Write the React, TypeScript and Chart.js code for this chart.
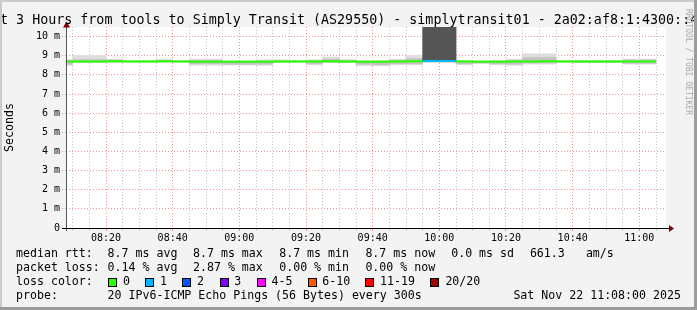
import React, { useEffect, useRef } from 'react';
import Chart from 'chart.js/auto';

// ---------- data ----------
const intervalStarts = ['08:05','08:10','08:15','08:20','08:25','08:30','08:35','08:40','08:45','08:50','08:55','09:00','09:05','09:10','09:15','09:20','09:25','09:30','09:35','09:40','09:45','09:50','09:55','10:00','10:05','10:10','10:15','10:20','10:25','10:30','10:35','10:40','10:45','10:50','10:55','11:00'];
const intervalMinutes = 5;
const axisStart = '08:08';
const axisEnd = '11:08';
const xTickLabels = ['08:20','08:40','09:00','09:20','09:40','10:00','10:20','10:40','11:00'];
const yTickValues = [0, 1, 2, 3, 4, 5, 6, 7, 8, 9, 10];
const yTickLabels = ['0', '1 m', '2 m', '3 m', '4 m', '5 m', '6 m', '7 m', '8 m', '9 m', '10 m'];
const yMax = 10.5;

// median rtt per interval (ms)
const medianRtt = [8.70, 8.70, 8.70, 8.71, 8.70, 8.70, 8.71, 8.70, 8.69, 8.69, 8.68, 8.68, 8.69, 8.70, 8.70, 8.70, 8.71, 8.70, 8.69, 8.69, 8.70, 8.71, 8.72, 8.72, 8.70, 8.68, 8.69, 8.70, 8.70, 8.71, 8.70, 8.70, 8.70, 8.70, 8.70, 8.70];
// outer smoke (min / max ping)
const smokeLow = [8.50, 8.64, 8.64, 8.64, 8.66, 8.66, 8.66, 8.66, 8.50, 8.50, 8.52, 8.52, 8.50, 8.64, 8.66, 8.52, 8.64, 8.64, 8.49, 8.49, 8.52, 8.52, 8.64, 8.64, 8.52, 8.60, 8.52, 8.50, 8.56, 8.56, 8.66, 8.64, 8.64, 8.64, 8.56, 8.56];
const smokeHigh = [8.80, 9.00, 9.00, 8.80, 8.75, 8.75, 8.82, 8.75, 8.82, 8.82, 8.74, 8.74, 8.79, 8.79, 8.75, 8.79, 8.93, 8.80, 8.75, 8.75, 8.82, 9.00, 8.74, 8.74, 8.75, 8.75, 8.75, 8.82, 9.10, 9.10, 8.75, 8.75, 8.75, 8.75, 8.82, 8.82];
// inner (denser) smoke
const coreLow = [8.55, 8.66, 8.66, 8.70, 8.68, 8.68, 8.68, 8.68, 8.58, 8.58, 8.55, 8.55, 8.56, 8.66, 8.68, 8.58, 8.66, 8.66, 8.55, 8.52, 8.58, 8.58, 8.74, 8.74, 8.58, 8.62, 8.58, 8.56, 8.62, 8.62, 8.68, 8.66, 8.66, 8.66, 8.60, 8.60];
const coreHigh = [8.76, 8.80, 8.80, 8.79, 8.73, 8.73, 8.73, 8.73, 8.76, 8.76, 8.70, 8.70, 8.74, 8.74, 8.73, 8.76, 8.82, 8.76, 8.72, 8.72, 8.76, 8.85, 8.80, 8.80, 8.73, 8.70, 8.73, 8.76, 8.90, 8.90, 8.73, 8.73, 8.73, 8.73, 8.78, 8.78];
// smoke of lost pings (drawn off the top of the scale)
const lostLow = [null, null, null, null, null, null, null, null, null, null, null, null, null, null, null, null, null, null, null, null, null, null, 8.80, 8.80, null, null, null, null, null, null, null, null, null, null, null, null];
const lostHigh = [null, null, null, null, null, null, null, null, null, null, null, null, null, null, null, null, null, null, null, null, null, null, 12, 12, null, null, null, null, null, null, null, null, null, null, null, null];
// loss colour bucket per interval (index into lossColors)
const lossBucket = [0,0,0,0,0,0,0,0,0,0,0,0,0,0,0,0,0,0,0,0,0,0,1,1,0,0,0,0,0,0,0,0,0,0,0,0];
const lossColors = ['#26ff00', '#00b8ff', '#0059ff', '#7e00ff', '#ff00ff', '#ff5500', '#ff0000', '#a10000'];
const lossLabels = ['0', '1', '2', '3', '4-5', '6-10', '11-19', '20/20'];

const titleText = 'Last 3 Hours from tools to Simply Transit (AS29550) - simplytransit01 - 2a02:af8:1:4300::4';
const medianStats = ['8.7 ms avg', '8.7 ms max', '8.7 ms min', '8.7 ms now', '0.0 ms sd', '661.3', 'am/s'];
const lossStats = ['0.14 % avg', '2.87 % max', '0.00 % min', '0.00 % now'];
const probeText = '20 IPv6-ICMP Echo Pings (56 Bytes) every 300s';
const dateText = 'Sat Nov 22 11:08:00 2025';

// ---------- helpers ----------
const toMin = (t: string) => { const [h, m] = t.split(':').map(Number); return h * 60 + m; };
const rel = (t: string) => toMin(t) - toMin(axisStart);
const mid = (i: number) => rel(intervalStarts[i]) + intervalMinutes / 2;
const isMajorX = (v: number) => xTickLabels.some(l => rel(l) === v);
const xTickValues: number[] = [];
for (let v = rel(intervalStarts[1]); v <= rel(axisEnd); v += intervalMinutes) xTickValues.push(v);

const rangeData = (lo: (number | null)[], hi: (number | null)[]) =>
  intervalStarts.map((_, i) => ({ x: mid(i), y: lo[i] == null || hi[i] == null ? null : [lo[i], hi[i]] }));

const medianPoints = intervalStarts.map((t, i) => ({ x: rel(t), y: medianRtt[i] }));
medianPoints.push({ x: rel(intervalStarts[intervalStarts.length - 1]) + intervalMinutes, y: medianRtt[medianRtt.length - 1] });

const MONO = '"DejaVu Sans Mono", monospace';
const GRID_MAJOR = 'rgba(238, 110, 110, 0.75)';
const GRID_MINOR = 'rgba(185, 185, 185, 0.8)';

const barCommon = { grouped: false, categoryPercentage: 1, barPercentage: 1, borderWidth: 0, clip: 0 };

const framePlugin = {
  id: 'rrdFrame',
  beforeDraw(chart: any) {
    const { ctx, chartArea: a } = chart;
    ctx.save();
    ctx.fillStyle = '#ffffff';
    ctx.fillRect(a.left, a.top, a.right - a.left, a.bottom - a.top);
    ctx.restore();
  },
  afterDatasetsDraw(chart: any) {
    const { ctx, chartArea: a } = chart;
    ctx.save();
    ctx.strokeStyle = '#555555';
    ctx.lineWidth = 1;
    ctx.beginPath();
    ctx.moveTo(a.left + 0.5, a.top - 4);
    ctx.lineTo(a.left + 0.5, a.bottom + 3);
    ctx.stroke();
    ctx.strokeStyle = '#000000';
    ctx.beginPath();
    ctx.moveTo(a.left - 4, a.bottom + 0.5);
    ctx.lineTo(a.right + 4, a.bottom + 0.5);
    ctx.stroke();
    ctx.fillStyle = '#800000';
    ctx.beginPath();
    ctx.moveTo(a.right + 3, a.bottom + 0.5 - 3.5);
    ctx.lineTo(a.right + 8, a.bottom + 0.5);
    ctx.lineTo(a.right + 3, a.bottom + 0.5 + 3.5);
    ctx.closePath();
    ctx.fill();
    ctx.beginPath();
    ctx.moveTo(a.left + 0.5 - 3.5, a.top + 0.5);
    ctx.lineTo(a.left + 0.5, a.top - 5.5);
    ctx.lineTo(a.left + 0.5 + 3.5, a.top + 0.5);
    ctx.closePath();
    ctx.fill();
    ctx.restore();
  },
};

function Txt({ x, base, size, children, color }: { x: number; base: number; size: number; children: any; color?: string }) {
  return (
    <span style={{ position: 'absolute', left: x, top: base - 0.846 * size, fontSize: size, lineHeight: `${size}px`, whiteSpace: 'pre', color: color || '#000' }}>{children}</span>
  );
}

export default function App() {
  const ref = useRef<HTMLCanvasElement>(null);
  useEffect(() => {
    const chart = new Chart(ref.current as HTMLCanvasElement, {
      type: 'bar',
      data: {
        datasets: [
          {
            type: 'line',
            label: 'median rtt',
            data: medianPoints,
            stepped: true,
            borderWidth: 2,
            pointRadius: 0,
            fill: false,
            clip: 0,
            order: 0,
            borderColor: lossColors[0],
            segment: { borderColor: (c: any) => lossColors[lossBucket[Math.min(c.p0DataIndex, lossBucket.length - 1)]] },
          } as any,
          { ...barCommon, label: 'lost', data: rangeData(lostLow, lostHigh), backgroundColor: '#555555', order: 1 } as any,
          {
            ...barCommon, label: 'core', data: rangeData(coreLow, coreHigh), order: 2,
            backgroundColor: (c: any) => (lossBucket[c.dataIndex] > 0 ? '#2a2a2a' : '#c2c2c2'),
          } as any,
          { ...barCommon, label: 'smoke', data: rangeData(smokeLow, smokeHigh), backgroundColor: '#dddddd', order: 3 } as any,
        ],
      },
      options: {
        responsive: false,
        maintainAspectRatio: false,
        devicePixelRatio: 1,
        animation: false,
        events: [],
        layout: { padding: { left: 0, right: 31, top: 27, bottom: 0 } },
        plugins: { legend: { display: false }, tooltip: { enabled: false }, title: { display: false } },
        scales: {
          x: {
            type: 'linear',
            min: 0,
            max: rel(axisEnd),
            offset: false,
            afterBuildTicks: (s: any) => { s.ticks = xTickValues.map(v => ({ value: v })); },
            afterFit: (s: any) => { s.height = 82; s.paddingLeft = 0; s.paddingRight = 0; },
            grid: {
              offset: false,
              color: (c: any) => (isMajorX(c.tick?.value) ? GRID_MAJOR : GRID_MINOR),
              tickColor: (c: any) => (isMajorX(c.tick?.value) ? GRID_MAJOR : GRID_MINOR),
              lineWidth: 1,
              drawTicks: true,
              tickLength: 3,
              borderDash: [1, 2],
            },
            border: { display: false, dash: [1, 2] },
            ticks: {
              autoSkip: false,
              maxRotation: 0,
              minRotation: 0,
              padding: 1,
              color: '#000',
              font: { family: MONO, size: 10 },
              callback: (v: any) => xTickLabels.find(l => rel(l) === v) ?? '',
            },
          },
          y: {
            type: 'linear',
            min: 0,
            max: yMax,
            afterFit: (s: any) => { s.width = 66; s.paddingTop = 0; s.paddingBottom = 0; },
            grid: {
              color: (c: any) => (Number.isInteger(c.tick?.value) ? GRID_MAJOR : GRID_MINOR),
              tickColor: (c: any) => (Number.isInteger(c.tick?.value) ? GRID_MAJOR : GRID_MINOR),
              lineWidth: 1,
              drawTicks: true,
              tickLength: 4,
              tickBorderDash: [1, 2],
              borderDash: [1, 2],
            },
            border: { display: false, dash: [1, 2] },
            ticks: {
              stepSize: 0.5,
              padding: 2,
              color: '#000',
              font: { family: MONO, size: 10 },
              callback: (v: any) => { const i = yTickValues.indexOf(v); return i >= 0 ? yTickLabels[i] : ''; },
            },
            title: { display: true, text: 'Seconds', color: '#000', font: { family: MONO, size: 11.6 }, padding: { top: 3.5, bottom: 0 } },
          },
        },
      } as any,
      plugins: [framePlugin],
    });
    return () => chart.destroy();
  }, []);

  const statX = [107.6, 193, 279.2, 365.4, 451.2, 529.9, 585.9];
  const boxX = [108, 145.4, 182.3, 219.6, 256.9, 307.6, 365.4, 430.3];
  const boxLabelX = [123.1, 160, 196.9, 234.3, 271.6, 322.3, 380, 445.4];

  return (
    <div style={{ position: 'fixed', left: 0, top: 0, width: 697, height: 310, background: '#f3f3f3', overflow: 'hidden', fontFamily: MONO, color: '#000' }}>
      <canvas ref={ref} width={697} height={310} style={{ position: 'absolute', left: 0, top: 0, width: 697, height: 310 }} />
      <Txt x={-24} base={24} size={13.33}>{titleText}</Txt>
      <span style={{ position: 'absolute', left: 693, top: 9, fontSize: 8, lineHeight: '10px', whiteSpace: 'pre', color: '#a8a8a8', transform: 'rotate(90deg)', transformOrigin: '0 0' }}>RRDTOOL / TOBI OETIKER</span>

      <Txt x={16} base={258} size={11.6}>median rtt:</Txt>
      {medianStats.map((s, i) => <Txt key={'m' + i} x={statX[i]} base={258} size={11.6}>{s}</Txt>)}
      <Txt x={16} base={272} size={11.6}>packet loss:</Txt>
      {lossStats.map((s, i) => <Txt key={'l' + i} x={statX[i]} base={272} size={11.6}>{s}</Txt>)}
      <Txt x={16} base={286} size={11.6}>loss color:</Txt>
      {lossLabels.map((s, i) => (
        <React.Fragment key={'c' + i}>
          <span style={{ position: 'absolute', left: Math.round(boxX[i]), top: 278, width: 7, height: 7, border: '1px solid #000', background: lossColors[i] }} />
          <Txt x={boxLabelX[i]} base={286} size={11.6}>{s}</Txt>
        </React.Fragment>
      ))}
      <Txt x={16} base={300} size={11.6}>probe:</Txt>
      <Txt x={107.6} base={300} size={11.6}>{probeText}</Txt>
      <Txt x={513.4} base={300} size={11.6}>{dateText}</Txt>

      <div style={{ position: 'absolute', left: 0, top: 0, width: 697, height: 2, background: '#cbcbcb' }} />
      <div style={{ position: 'absolute', left: 0, top: 0, width: 2, height: 310, background: '#cbcbcb' }} />
      <div style={{ position: 'absolute', left: 694, top: 0, width: 3, height: 310, background: '#9c9c9c' }} />
      <div style={{ position: 'absolute', left: 0, top: 307, width: 697, height: 3, background: '#9c9c9c' }} />
    </div>
  );
}
